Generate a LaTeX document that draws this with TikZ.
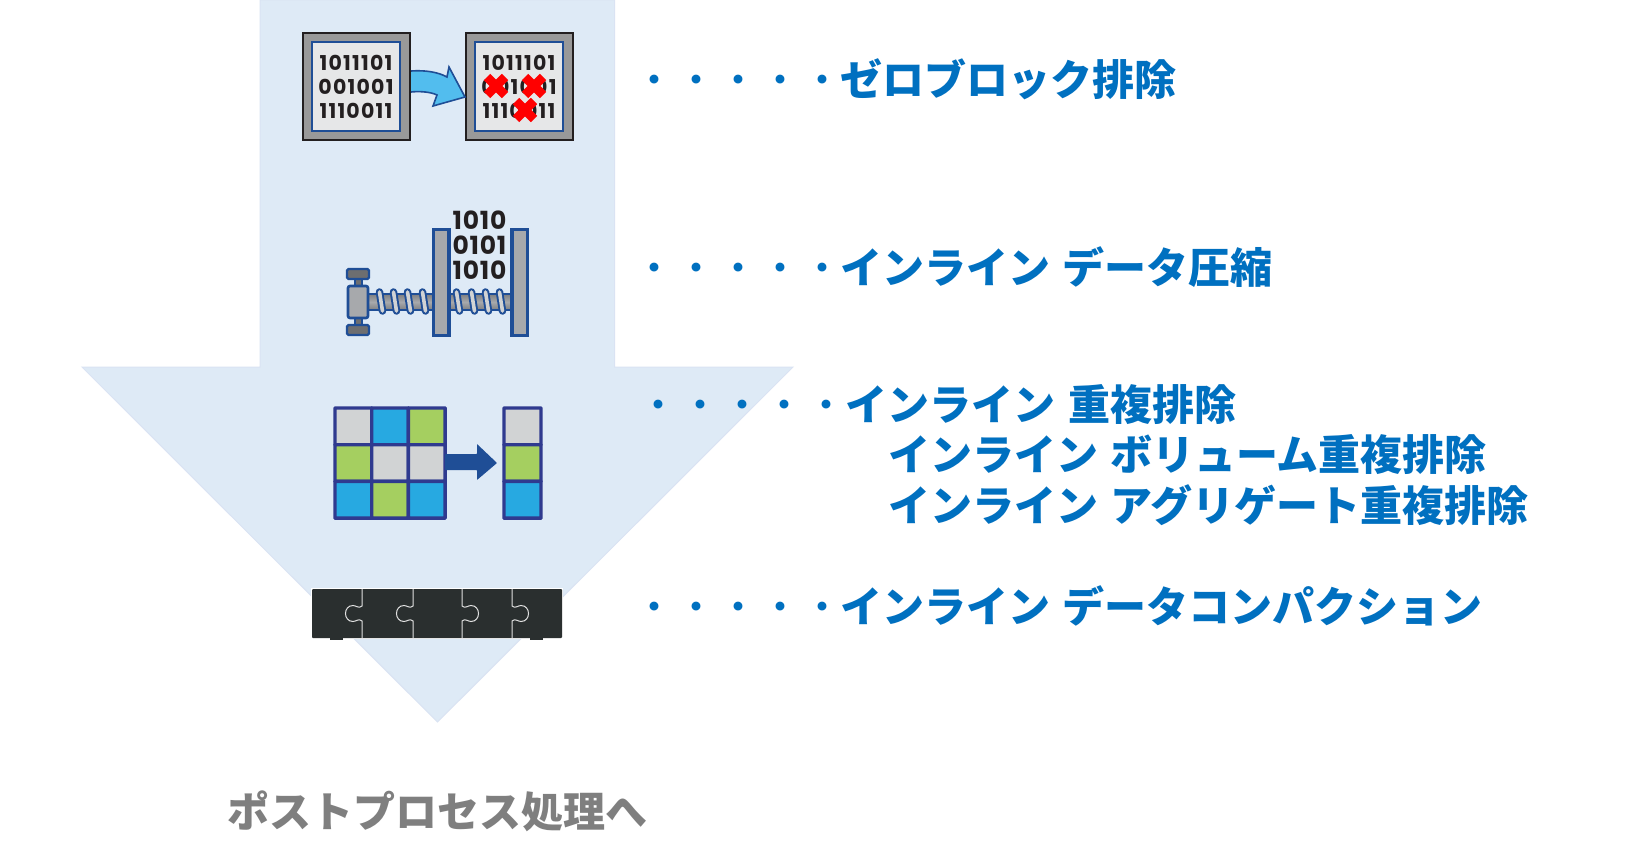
\documentclass[tikz,border=0pt]{standalone}
\usepackage{fontspec}
\setmainfont{Noto Sans CJK JP}
\newfontfamily\digits[LetterSpace=6]{Poppins}
\newfontfamily\digitsbig[LetterSpace=3]{Poppins}
\newcommand{\dotrun}{\hspace{2.5pt}{\mdseries ・・・・・}\hspace{-2.5pt}}
\newcommand{\gapw}{\hspace{12pt}}
\definecolor{arrowfill}{HTML}{DEEAF6}
\definecolor{arrowedge}{HTML}{DAE3F3}
\definecolor{labelblue}{HTML}{0070C0}
\definecolor{labelgray}{HTML}{7F7F7F}
\definecolor{ink}{HTML}{231F20}
\definecolor{frameblue}{HTML}{1F4E96}
\definecolor{gridblue}{HTML}{2F3A8F}
\definecolor{cellgray}{HTML}{D1D3D4}
\definecolor{cellblue}{HTML}{27A9E1}
\definecolor{cellgreen}{HTML}{A5CF60}
\definecolor{platefill}{HTML}{A7A9AC}
\definecolor{boxfill}{HTML}{E6E7E8}
\definecolor{skyfill}{HTML}{52BDEE}
\definecolor{puzzle}{HTML}{2A2F2F}
\tikzset{
  lbl/.style={anchor=west,inner sep=0pt,text=labelblue,font=\fontsize{42}{42}\selectfont\bfseries},
  bits/.style={inner sep=0pt,text=ink,font=\digits\fontsize{20.5}{20.5}\selectfont\bfseries},
  bitsbig/.style={inner sep=0pt,text=ink,font=\digitsbig\fontsize{25}{25}\selectfont\bfseries},
  outerbox/.style={fill=black!40,draw=ink,line width=2pt},
  innerbox/.style={fill=boxfill,draw=frameblue,line width=1.5pt},
  plate/.style={fill=platefill,draw=frameblue,line width=3.5pt},
  cross/.style={draw=red,line width=9pt},
  cell/.style={draw=gridblue,line width=3.4pt,rounded corners=0.5pt},
  seam/.style={draw=white!88!black,line width=1pt}
}
\begin{document}
\begin{tikzpicture}[x=1pt,y=-1pt]
\useasboundingbox (0,0) rectangle (1636,867);
\fill[white] (0,0) rectangle (1636,867);
% big arrow
\draw[fill=arrowfill,draw=arrowedge,line width=1pt,line join=miter]
  (260,0) -- (614.5,0) -- (614.5,367) -- (793,367) -- (437.5,722) -- (82,367) -- (260,367) -- cycle;
% icon 1
\draw[outerbox] (303,33) rectangle (410,140);
\draw[innerbox] (312,42) rectangle (400,131);
\draw[outerbox] (466,33) rectangle (573,140);
\draw[innerbox] (475,42) rectangle (563,131);
\node[bits] (la) at (356,63) {1011101};
\node[bits] (lb) at (356,87) {001001};
\node[bits] (lc) at (356,111) {1110011};
\node[bits] (ra) at (519,63) {1011101};
\node[bits] (rb) at (519,87) {001001};
\node[bits] (rc) at (519,111) {1110011};
\draw[fill=skyfill,draw=frameblue,line width=1.6pt,line join=miter]
  (411,71) .. controls (425,70) and (438,72) .. (447,77) -- (449,67) -- (465,97) -- (433,106) -- (437,95)
  .. controls (431,92) and (420,91) .. (411,92);
\foreach \cx/\cy in {496/86,534/86,525/110}{
  \draw[cross] (\cx-9,\cy-9) -- (\cx+9,\cy+9);
  \draw[cross] (\cx+9,\cy-9) -- (\cx-9,\cy+9);
}
% icon 2
\draw[draw=frameblue,line width=2pt,top color=platefill!75!black,bottom color=platefill!75!black,middle color=platefill] (365,294) rectangle (511,310);
\foreach \tx in {381,395,409,424,458,473,487,501}{
  \draw[frameblue,line width=7.5pt,line cap=round] (\tx-1.5,292) -- (\tx+1.5,311);
  \draw[cellgray,line width=3.6pt,line cap=round] (\tx-1.5,292) -- (\tx+1.5,311);
}
\draw[plate] (433.5,229.5) rectangle (449,335.5);
\draw[plate] (512,229.5) rectangle (527.5,335.5);
\node[bitsbig] (ca) at (479.5,220) {1010};
\node[bitsbig] (cb) at (479.5,245) {0101};
\node[bitsbig] (cc) at (479.5,270) {1010};
\draw[fill=platefill!65!black,draw=frameblue,line width=2.2pt] (355,279) rectangle (362,326);
\draw[fill=platefill!65!black,draw=frameblue,line width=2.2pt,rounded corners=1.5pt] (347,269) rectangle (369,279);
\draw[fill=platefill!65!black,draw=frameblue,line width=2.2pt,rounded corners=1.5pt] (347,325) rectangle (369,335);
\draw[fill=platefill,draw=frameblue,line width=2.6pt,rounded corners=2pt] (348,286) rectangle (368,318);
% icon 3
\foreach \ci/\cj/\cc in {0/0/cellgray,1/0/cellblue,2/0/cellgreen,0/1/cellgreen,1/1/cellgray,2/1/cellgray,0/2/cellblue,1/2/cellgreen,2/2/cellblue}{
  \draw[cell,fill=\cc] ({335+36.7*\ci},{408+36.7*\cj}) rectangle ++(36.7,36.7);
}
\foreach \cj/\cc in {0/cellgray,1/cellgreen,2/cellblue}{
  \draw[cell,fill=\cc] ({504},{408+36.7*\cj}) rectangle ++(37,36.7);
}
\fill[frameblue,rounded corners=0.6pt] (445,454) -- (477,454) -- (477,444) -- (497,463) -- (477,480) -- (477,470) -- (445,470) -- cycle;
% icon 4
\fill[white] (311,588) rectangle (563,639);
\fill[puzzle,rounded corners=1pt] (312,589) rectangle (562,638);
\fill[puzzle] (330,636) rectangle (343,640);
\fill[puzzle] (530,636) rectangle (543,640);
\foreach \bx/\dir in {362/1,413/1,462/-1,512/-1}{
  \draw[seam] (\bx,589) -- (\bx,606)
    .. controls (\bx-3*\dir,609) and (\bx-6*\dir,605.5) .. (\bx-9*\dir,605.5)
    .. controls (\bx-19*\dir,605.5) and (\bx-19*\dir,621.5) .. (\bx-9*\dir,621.5)
    .. controls (\bx-6*\dir,621.5) and (\bx-3*\dir,618) .. (\bx,621) -- (\bx,638);
}
% labels
\node[lbl] (t1) at (630.5,79) {\dotrun ゼロブロック排除};
\node[lbl] (t2) at (630.5,267) {\dotrun インライン\gapw データ圧縮};
\node[lbl] (t3) at (635,405) {\dotrun インライン\hspace{13.5pt}重複排除};
\node[lbl] (t4) at (888,455) {インライン\gapw ボリューム重複排除};
\node[lbl] (t5) at (888,505) {インライン\gapw アグリゲート重複排除};
\node[lbl] (t6) at (630.5,606) {\dotrun インライン\gapw データコンパクション};
\node[anchor=center,inner sep=0pt,text=labelgray,font=\fontsize{42}{42}\selectfont\bfseries] (t7) at (437,811) {ポストプロセス処理へ};
\end{tikzpicture}
\end{document}
